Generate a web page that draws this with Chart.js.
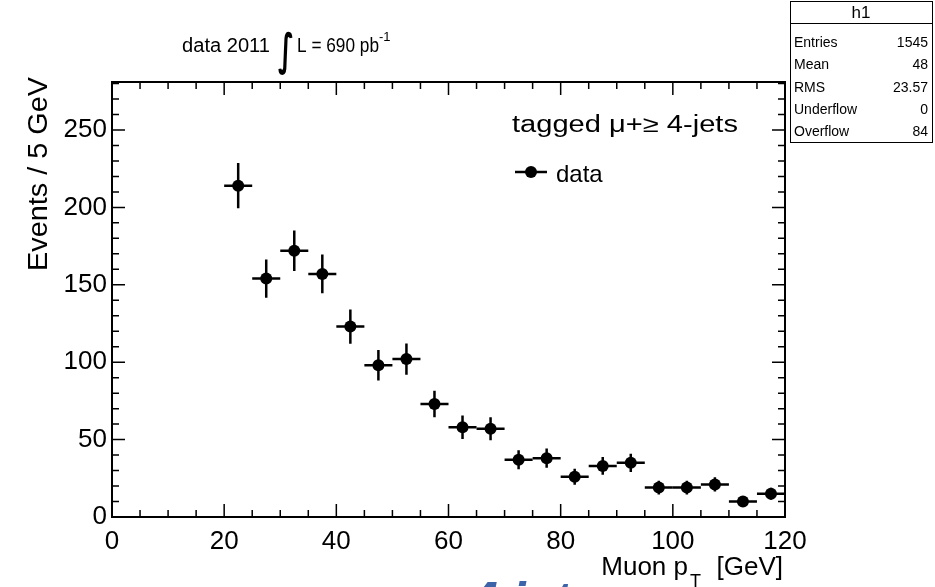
<!DOCTYPE html>
<html>
<head>
<meta charset="utf-8">
<script src="https://cdn.jsdelivr.net/npm/chart.js@4.4.1/dist/chart.umd.min.js"></script>
<style>
  html, body { margin: 0; padding: 0; background: #ffffff; }
  #wrap { width: 935px; height: 587px; position: relative; }
</style>
</head>
<body>
<div id="wrap"><canvas id="c" width="935" height="587"></canvas></div>
<script>
// ---- data ----
const binCenters = [22.5, 27.5, 32.5, 37.5, 42.5, 47.5, 52.5, 57.5, 62.5, 67.5,
                    72.5, 77.5, 82.5, 87.5, 92.5, 97.5, 102.5, 107.5, 112.5, 117.5];
const eventCounts = [214, 154, 172, 157, 123, 98, 102, 73, 58, 57,
                     37, 38, 26, 33, 35, 19, 19, 21, 10, 15];
const countErrors = [14.6, 12.4, 13.1, 12.5, 11.1, 9.9, 10.1, 8.5, 7.6, 7.5,
                     6.1, 6.2, 5.1, 5.7, 5.9, 4.4, 4.4, 4.6, 3.2, 3.9];
const binWidth = 5;
const xTickLabels = [0, 20, 40, 60, 80, 100, 120];
const yTickLabels = [0, 50, 100, 150, 200, 250];
const statsLabels = ["Entries", "Mean", "RMS", "Underflow", "Overflow"];
const statsValues = ["1545", "48", "23.57", "0", "84"];

const FONT = "'Liberation Sans', Arial, Helvetica, sans-serif";

function txt(ctx, s, x, y, size, align, opts) {
  opts = opts || {};
  ctx.save();
  ctx.font = (opts.style || "") + " " + size + "px " + (opts.family || FONT);
  ctx.fillStyle = opts.color || "#000";
  ctx.textAlign = align || "left";
  ctx.textBaseline = "alphabetic";
  let w = ctx.measureText(s).width;
  if (opts.width) {
    const k = opts.width / w;
    ctx.translate(x, y);
    ctx.scale(k, 1);
    ctx.fillText(s, 0, 0);
    w = opts.width;
  } else {
    ctx.fillText(s, x, y);
  }
  ctx.restore();
  return w;
}

const errorBars = {
  id: "errorBars",
  afterDatasetsDraw(chart) {
    const ctx = chart.ctx, xs = chart.scales.x, ys = chart.scales.y;
    ctx.save();
    ctx.strokeStyle = "#000";
    ctx.lineWidth = 2.5;
    binCenters.forEach((xc, i) => {
      const v = eventCounts[i], e = countErrors[i];
      const px = xs.getPixelForValue(xc), py = ys.getPixelForValue(v);
      ctx.beginPath();
      ctx.moveTo(xs.getPixelForValue(xc - binWidth / 2), py);
      ctx.lineTo(xs.getPixelForValue(xc + binWidth / 2), py);
      ctx.moveTo(px, ys.getPixelForValue(v - e));
      ctx.lineTo(px, ys.getPixelForValue(v + e));
      ctx.stroke();
    });
    ctx.restore();
  }
};

const frameAndText = {
  id: "frameAndText",
  afterDraw(chart) {
    const ctx = chart.ctx, xs = chart.scales.x, ys = chart.scales.y;
    const a = chart.chartArea;
    ctx.save();
    // frame
    ctx.strokeStyle = "#000";
    ctx.lineWidth = 2;
    ctx.strokeRect(a.left, a.top, a.right - a.left, a.bottom - a.top);
    // ticks
    ctx.lineWidth = 1.5;
    ctx.beginPath();
    for (let v = 0; v <= 280; v += 10) {
      const py = ys.getPixelForValue(v);
      const len = (v % 50 === 0) ? 13 : 7;
      ctx.moveTo(a.left, py); ctx.lineTo(a.left + len, py);
      ctx.moveTo(a.right, py); ctx.lineTo(a.right - len, py);
    }
    for (let v = 0; v <= 120; v += 5) {
      const px = xs.getPixelForValue(v);
      const len = (v % 20 === 0) ? 13 : 7;
      ctx.moveTo(px, a.bottom); ctx.lineTo(px, a.bottom - len);
      ctx.moveTo(px, a.top); ctx.lineTo(px, a.top + len);
    }
    ctx.stroke();

    // y title
    ctx.save();
    ctx.translate(47, 77);
    ctx.rotate(-Math.PI / 2);
    txt(ctx, "Events / 5 GeV", 0, 0, 27, "right", {width: 194});
    ctx.restore();

    // x title with subscript
    const fs = 26;
    ctx.font = fs + "px " + FONT;
    const wGeV = ctx.measureText("[GeV]").width;
    txt(ctx, "[GeV]", 783 - wGeV, 575, fs, "left");
    ctx.font = fs + "px " + FONT;
    const wMuon = ctx.measureText("Muon p").width;
    txt(ctx, "Muon p", 688 - wMuon, 575, fs, "left");
    txt(ctx, "T", 690, 587, 18, "left");

    // top label
    txt(ctx, "data 2011", 182, 52, 20, "left", {width: 88});
    txt(ctx, "\u222B", 278, 65, 44, "left", {family: "'DejaVu Sans', sans-serif", style: "bold", width: 16});
    const wl = txt(ctx, "L = 690 pb", 297, 52, 20, "left", {width: 82});
    txt(ctx, "-1", 297 + wl, 41, 13, "left");

    // legend
    txt(ctx, "tagged \u03BC+\u2265 4-jets", 512, 132, 23, "left", {width: 226});
    ctx.strokeStyle = "#000";
    ctx.lineWidth = 2.5;
    ctx.beginPath();
    ctx.moveTo(515, 172); ctx.lineTo(547, 172);
    ctx.stroke();
    ctx.fillStyle = "#000";
    ctx.beginPath();
    ctx.arc(531, 172, 6, 0, Math.PI * 2);
    ctx.fill();
    txt(ctx, "data", 556, 182, 24, "left");

    // stats box
    ctx.fillStyle = "#fff";
    ctx.fillRect(790, 1, 143, 141);
    ctx.strokeStyle = "#000";
    ctx.lineWidth = 1;
    ctx.strokeRect(790.5, 1.5, 142, 141);
    ctx.beginPath();
    ctx.moveTo(790.5, 23.5); ctx.lineTo(932.5, 23.5);
    ctx.stroke();
    txt(ctx, "h1", 861, 18, 17, "center");
    const rowY = [47, 69, 92, 114, 136];
    statsLabels.forEach((l, i) => {
      txt(ctx, l, 794, rowY[i], 14, "left");
      txt(ctx, statsValues[i], 928, rowY[i], 14, "right");
    });

    // partially visible slide title at the bottom edge
    txt(ctx, "4 jets", 470, 617, 50, "left", {style: "italic bold", color: "#3d64a8"});
    ctx.restore();
  }
};

new Chart(document.getElementById("c"), {
  type: "scatter",
  data: {
    datasets: [{
      label: "data",
      data: binCenters.map((x, i) => ({x: x, y: eventCounts[i]})),
      backgroundColor: "#000",
      borderColor: "#000",
      pointRadius: 6,
      pointHoverRadius: 6,
      borderWidth: 0
    }]
  },
  options: {
    responsive: false,
    animation: false,
    events: [],
    layout: { padding: { left: 0, right: 150, top: 82, bottom: 0 } },
    plugins: { legend: { display: false }, tooltip: { enabled: false }, title: { display: false } },
    scales: {
      x: {
        type: "linear", min: 0, max: 120,
        grid: { display: false, drawTicks: false, tickLength: 0 },
        border: { display: false },
        afterFit: (s) => { s.height = 70; },
        afterBuildTicks: (s) => { s.ticks = xTickLabels.map(v => ({value: v})); },
        ticks: { color: "#000", font: { family: FONT, size: 26 }, padding: 9, maxRotation: 0, autoSkip: false }
      },
      y: {
        type: "linear", min: 0, max: 281,
        grid: { display: false, drawTicks: false, tickLength: 0 },
        border: { display: false },
        afterFit: (s) => { s.width = 112; },
        afterBuildTicks: (s) => { s.ticks = yTickLabels.map(v => ({value: v})); },
        ticks: { color: "#000", font: { family: FONT, size: 26 }, padding: 5, autoSkip: false }
      }
    }
  },
  plugins: [errorBars, frameAndText]
});
</script>
</body>
</html>
